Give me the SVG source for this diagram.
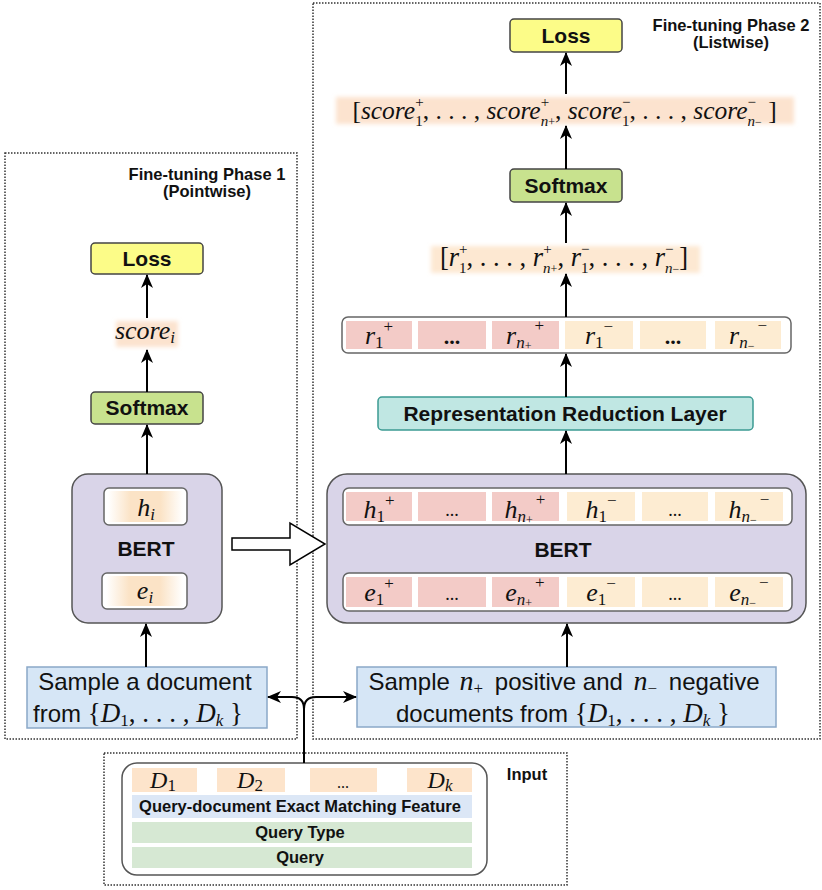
<svg xmlns="http://www.w3.org/2000/svg" width="822" height="890" viewBox="0 0 822 890">
<style>
.frame{fill:none;stroke:#333;stroke-width:1.5;stroke-dasharray:1.5 1.5}
.title{font-family:"Liberation Sans",Arial,sans-serif;font-weight:bold;font-size:16.5px;fill:#111;text-anchor:middle}
.lbl{font-family:"Liberation Sans",Arial,sans-serif;font-weight:bold;font-size:21px;fill:#111;text-anchor:middle}
.txt{font-family:"Liberation Sans",Arial,sans-serif;font-size:24px;fill:#111;text-anchor:middle}
.small{font-family:"Liberation Sans",Arial,sans-serif;font-weight:bold;font-size:16.5px;fill:#111;text-anchor:middle}
.math{font-family:"Liberation Serif","Times New Roman",serif;font-style:italic;fill:#111}
.rm{font-style:normal}
.s{font-size:17px;font-style:normal}
.si{font-size:17px;font-style:italic}
.ss{font-size:12px;font-style:normal}
.p{font-size:15px;font-style:normal}
.pi{font-size:15px;font-style:italic}
.loss{fill:#fcfc88;stroke:#444;stroke-width:1.5}
.soft{fill:#c8e28e;stroke:#444;stroke-width:1.5}
.bert{fill:#d9d4e8;stroke:#555;stroke-width:1.5}
.row{fill:#fff;stroke:#666;stroke-width:1.5}
.pink{fill:#f3cbc7}
.org{fill:#fdecd2}
.sample{fill:#d6e6f6;stroke:#8aa8c8;stroke-width:1.5}
.conn{fill:none;stroke:#000;stroke-width:2;marker-end:url(#ah)}
</style>
<defs>
<marker id="ah" viewBox="0 0 14 14" refX="13" refY="7" markerWidth="14" markerHeight="14" markerUnits="userSpaceOnUse" orient="auto"><path d="M0,1 L14,7 L0,13 L4,7 Z" fill="#000"/></marker>
<filter id="blur" x="-20%" y="-50%" width="140%" height="200%"><feGaussianBlur stdDeviation="2.2"/></filter>
<linearGradient id="og" x1="0" x2="1" y1="0" y2="0"><stop offset="0" stop-color="#fff"/><stop offset="0.3" stop-color="#fbe3c6"/><stop offset="0.7" stop-color="#fbe3c6"/><stop offset="1" stop-color="#fff"/></linearGradient>
</defs>
<rect width="822" height="890" fill="#fff"/>

<g id="frames">
<rect class="frame" x="5" y="153" width="292" height="586"/>
<rect class="frame" x="313" y="3" width="507" height="736"/>
<rect class="frame" x="104" y="753" width="463" height="132"/>
<text class="title" x="207" y="180">Fine-tuning Phase 1</text>
<text class="title" x="207" y="197">(Pointwise)</text>
<text class="title" x="731" y="31">Fine-tuning Phase 2</text>
<text class="title" x="731" y="48">(Listwise)</text>
<text class="small" x="527" y="780">Input</text>
</g>

<!-- Phase 1 -->
<g id="loss1"><rect class="loss" x="91" y="243" width="112" height="31" rx="4"/><text class="lbl" x="147" y="266">Loss</text></g>
<g id="score1"><rect x="116" y="321" width="62" height="26" fill="#fce3cf" filter="url(#blur)"/><text class="math" x="145" y="339" font-size="26" text-anchor="middle">score<tspan class="si" dy="4">i</tspan></text></g>
<g id="softmax1"><rect class="soft" x="91" y="392" width="112" height="32" rx="4"/><text class="lbl" x="147" y="415">Softmax</text></g>
<g id="bert1">
<rect class="bert" x="72" y="474" width="150" height="149" rx="16"/>
<rect class="row" x="104" y="488" width="83" height="37" rx="5"/><rect x="108" y="491" width="75" height="31" fill="url(#og)"/>
<text class="math" x="146" y="516" font-size="26" text-anchor="middle">h<tspan class="si" dy="4">i</tspan></text>
<text class="lbl" x="146" y="556">BERT</text>
<rect class="row" x="102" y="573" width="85" height="36" rx="5"/><rect x="106" y="576" width="77" height="30" fill="url(#og)"/>
<text class="math" x="145" y="599" font-size="26" text-anchor="middle">e<tspan class="si" dy="4">i</tspan></text>
</g>
<g id="sample1"><rect class="sample" x="27" y="667" width="240" height="61"/>
<text class="txt" x="145" y="690">Sample a document</text>
<text class="txt" x="138" y="722">from <tspan class="math rm" font-size="27">{</tspan><tspan class="math" font-size="27">D</tspan><tspan class="math s" font-size="18" dy="4">1</tspan><tspan class="math rm" font-size="27" dy="-4">, . . . , </tspan><tspan class="math" font-size="27">D</tspan><tspan class="math si" font-size="18" dy="4">k</tspan><tspan class="math rm" font-size="27" dy="-4"> }</tspan></text>
</g>

<g id="transfer"><polygon points="232,538 290,538 290,523 325,544 290,565 290,550 232,550" fill="#fff" stroke="#000" stroke-width="1.5"/></g>

<!-- Phase 2 -->
<g id="loss2"><rect class="loss" x="510" y="19" width="112" height="33" rx="4"/><text class="lbl" x="566" y="43">Loss</text></g>
<g id="scores2"><rect x="336" y="97" width="458" height="27" fill="#fce3cf" filter="url(#blur)"/>
<text class="math" x="564.5" y="119" font-size="25.5" text-anchor="middle"><tspan class="rm">[</tspan>score<tspan class="p" dy="-12">+</tspan><tspan class="p" dx="-8.5" dy="19">1</tspan><tspan class="rm" dy="-7">, . . . , </tspan>score<tspan class="p" dy="-12">+</tspan><tspan class="pi" dx="-8.5" dy="19">n</tspan><tspan class="ss">+</tspan><tspan class="rm" dy="-7">, </tspan>score<tspan class="p" dy="-12">−</tspan><tspan class="p" dx="-8.5" dy="19">1</tspan><tspan class="rm" dy="-7">, . . . , </tspan>score<tspan class="p" dy="-12">−</tspan><tspan class="pi" dx="-8.5" dy="19">n</tspan><tspan class="ss">−</tspan><tspan class="rm" dy="-7"> ]</tspan></text></g>
<g id="softmax2"><rect class="soft" x="510" y="169" width="112" height="33" rx="4"/><text class="lbl" x="566" y="193">Softmax</text></g>
<g id="rlist"><rect x="431" y="246" width="269" height="27" fill="#fde8d2" filter="url(#blur)"/>
<text class="math" x="564" y="266" font-size="26.5" text-anchor="middle"><tspan class="rm">[</tspan>r<tspan class="p" dy="-12">+</tspan><tspan class="p" dx="-8.5" dy="19">1</tspan><tspan class="rm" dy="-7">, . . . , </tspan>r<tspan class="p" dy="-12">+</tspan><tspan class="pi" dx="-8.5" dy="19">n</tspan><tspan class="ss">+</tspan><tspan class="rm" dy="-7">, </tspan>r<tspan class="p" dy="-12">−</tspan><tspan class="p" dx="-8.5" dy="19">1</tspan><tspan class="rm" dy="-7">, . . . , </tspan>r<tspan class="p" dy="-12">−</tspan><tspan class="pi" dx="-8.5" dy="19">n</tspan><tspan class="ss">−</tspan><tspan class="rm" dy="-7">]</tspan></text></g>

<g id="rrow">
<rect class="row" x="342" y="317" width="449" height="36" rx="6"/>
<rect class="pink" x="346" y="321" width="66" height="28"/><rect class="pink" x="418" y="321" width="68" height="28"/><rect class="pink" x="492" y="321" width="67" height="28"/>
<rect class="org" x="565" y="321" width="68" height="28"/><rect class="org" x="640" y="321" width="66" height="28"/><rect class="org" x="715" y="321" width="66" height="28"/>
<text class="math" x="379" y="344" font-size="26" text-anchor="middle">r<tspan class="s" font-size="19" dy="4">1</tspan><tspan class="s" font-size="19" dy="-16">+</tspan></text>
<text class="math rm" x="452" y="344" font-size="22" font-weight="bold" text-anchor="middle">...</text>
<text class="math" x="525" y="344" font-size="26" text-anchor="middle">r<tspan class="si" font-size="19" dy="4">n</tspan><tspan class="ss" font-size="13" dy="2">+</tspan><tspan class="s" font-size="19" dx="3" dy="-19">+</tspan></text>
<text class="math" x="599" y="344" font-size="26" text-anchor="middle">r<tspan class="s" font-size="19" dy="4">1</tspan><tspan class="s" font-size="19" dy="-16">−</tspan></text>
<text class="math rm" x="673" y="344" font-size="22" font-weight="bold" text-anchor="middle">...</text>
<text class="math" x="748" y="344" font-size="26" text-anchor="middle">r<tspan class="si" font-size="19" dy="4">n</tspan><tspan class="ss" font-size="13" dy="2">−</tspan><tspan class="s" font-size="19" dx="3" dy="-19">−</tspan></text>
</g>

<g id="rrl"><rect x="378" y="397" width="375" height="33" rx="4" fill="#c0e7e3" stroke="#3b9a92" stroke-width="1.5"/><text class="lbl" x="565" y="421" font-size="22">Representation Reduction Layer</text></g>

<g id="bert2">
<rect class="bert" x="327" y="474" width="479" height="149" rx="20"/>
<rect class="row" x="343" y="488" width="449" height="37" rx="6"/>
<rect class="pink" x="346" y="492" width="66" height="29"/><rect class="pink" x="418" y="492" width="68" height="29"/><rect class="pink" x="492" y="492" width="67" height="29"/>
<rect class="org" x="567" y="492" width="68" height="29"/><rect class="org" x="642" y="492" width="66" height="29"/><rect class="org" x="715" y="492" width="68" height="29"/>
<text class="math" x="379" y="518" font-size="26" text-anchor="middle">h<tspan class="s" font-size="19" dy="4">1</tspan><tspan class="s" font-size="19" dy="-16">+</tspan></text>
<text class="math rm" x="452" y="516" font-size="18" text-anchor="middle">...</text>
<text class="math" x="525" y="518" font-size="26" text-anchor="middle">h<tspan class="si" font-size="19" dy="4">n</tspan><tspan class="ss" font-size="13" dy="2">+</tspan><tspan class="s" font-size="19" dx="3" dy="-19">+</tspan></text>
<text class="math" x="601" y="518" font-size="26" text-anchor="middle">h<tspan class="s" font-size="19" dy="4">1</tspan><tspan class="s" font-size="19" dy="-16">−</tspan></text>
<text class="math rm" x="675" y="516" font-size="18" text-anchor="middle">...</text>
<text class="math" x="749" y="518" font-size="26" text-anchor="middle">h<tspan class="si" font-size="19" dy="4">n</tspan><tspan class="ss" font-size="13" dy="2">−</tspan><tspan class="s" font-size="19" dx="3" dy="-19">−</tspan></text>
<text class="lbl" x="563" y="557">BERT</text>
<rect class="row" x="343" y="573" width="449" height="38" rx="6"/>
<rect class="pink" x="346" y="577" width="66" height="30"/><rect class="pink" x="418" y="577" width="68" height="30"/><rect class="pink" x="492" y="577" width="67" height="30"/>
<rect class="org" x="567" y="577" width="68" height="30"/><rect class="org" x="642" y="577" width="66" height="30"/><rect class="org" x="715" y="577" width="68" height="30"/>
<text class="math" x="379" y="601" font-size="26" text-anchor="middle">e<tspan class="s" font-size="19" dy="4">1</tspan><tspan class="s" font-size="19" dy="-16">+</tspan></text>
<text class="math rm" x="452" y="600" font-size="18" text-anchor="middle">...</text>
<text class="math" x="525" y="601" font-size="26" text-anchor="middle">e<tspan class="si" font-size="19" dy="4">n</tspan><tspan class="ss" font-size="13" dy="2">+</tspan><tspan class="s" font-size="19" dx="3" dy="-19">+</tspan></text>
<text class="math" x="601" y="601" font-size="26" text-anchor="middle">e<tspan class="s" font-size="19" dy="4">1</tspan><tspan class="s" font-size="19" dy="-16">−</tspan></text>
<text class="math rm" x="675" y="600" font-size="18" text-anchor="middle">...</text>
<text class="math" x="749" y="601" font-size="26" text-anchor="middle">e<tspan class="si" font-size="19" dy="4">n</tspan><tspan class="ss" font-size="13" dy="2">−</tspan><tspan class="s" font-size="19" dx="3" dy="-19">−</tspan></text>
</g>

<g id="sample2"><rect class="sample" x="357" y="667" width="419" height="60"/>
<text class="txt" x="564" y="690">Sample <tspan class="math" font-size="28" dx="3">n</tspan><tspan class="math s" font-size="19" dy="4">+</tspan><tspan dy="-4" dx="5"> positive and </tspan><tspan class="math" font-size="28" dx="4">n</tspan><tspan class="math s" font-size="19" dy="4">−</tspan><tspan dy="-4" dx="5"> negative</tspan></text>
<text class="txt" x="563" y="722">documents from <tspan class="math rm" font-size="27">{</tspan><tspan class="math" font-size="27">D</tspan><tspan class="math s" font-size="18" dy="4">1</tspan><tspan class="math rm" font-size="27" dy="-4">, . . . , </tspan><tspan class="math" font-size="27">D</tspan><tspan class="math si" font-size="18" dy="4">k</tspan><tspan class="math rm" font-size="27" dy="-4"> }</tspan></text>
</g>

<g id="input">
<rect x="122" y="763" width="365" height="112" rx="15" fill="#fff" stroke="#555" stroke-width="1.5"/>
<rect x="132" y="768" width="65" height="24" fill="#fde4cb"/><rect x="217" y="768" width="68" height="24" fill="#fde4cb"/><rect x="310" y="768" width="67" height="24" fill="#fde4cb"/><rect x="407" y="768" width="65" height="24" fill="#fde4cb"/>
<text class="math" x="163" y="788" font-size="24" text-anchor="middle">D<tspan class="s" font-size="16" dy="3">1</tspan></text>
<text class="math" x="250" y="788" font-size="24" text-anchor="middle">D<tspan class="s" font-size="16" dy="3">2</tspan></text>
<text class="math rm" x="343" y="788" font-size="16" text-anchor="middle">...</text>
<text class="math" x="440" y="788" font-size="24" text-anchor="middle">D<tspan class="si" font-size="16" dy="3">k</tspan></text>
<rect x="132" y="795" width="340" height="23" fill="#dce7f6"/>
<text class="small" x="300" y="812">Query-document Exact Matching Feature</text>
<rect x="132" y="822" width="340" height="21" fill="#d6e8d3"/>
<text class="small" x="300" y="838">Query Type</text>
<rect x="132" y="847" width="340" height="21" fill="#d6e8d3"/>
<text class="small" x="300" y="863">Query</text>
</g>

<g id="connectors">
<line class="conn" x1="147" y1="318" x2="147" y2="275"/>
<line class="conn" x1="147" y1="392" x2="147" y2="350"/>
<line class="conn" x1="147" y1="474" x2="147" y2="425"/>
<line class="conn" x1="146" y1="667" x2="146" y2="624"/>
<line class="conn" x1="566" y1="94" x2="566" y2="53"/>
<line class="conn" x1="566" y1="169" x2="566" y2="126"/>
<line class="conn" x1="566" y1="243" x2="566" y2="203"/>
<line class="conn" x1="566" y1="317" x2="566" y2="274"/>
<line class="conn" x1="566" y1="397" x2="566" y2="354"/>
<line class="conn" x1="566" y1="474" x2="566" y2="431"/>
<line class="conn" x1="567" y1="667" x2="567" y2="624"/>
<path class="conn" d="M304,763 L304,709 Q304,697 292,697 L268,697"/>
<path class="conn" d="M304,709 Q304,697 316,697 L356,697"/>
</g>
</svg>
